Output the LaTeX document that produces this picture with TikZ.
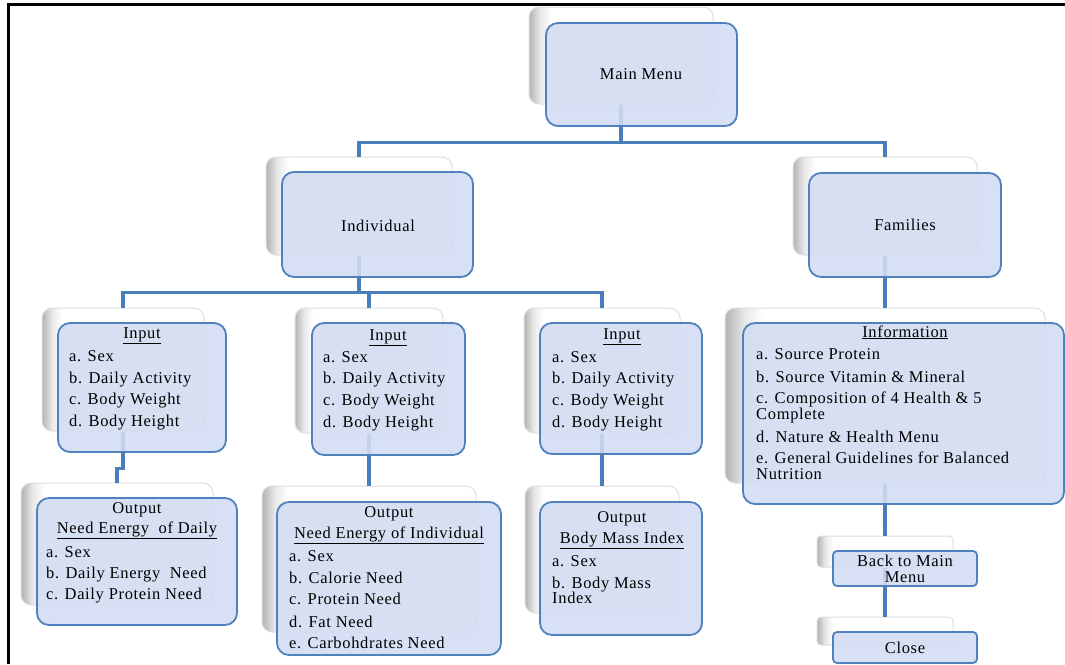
\documentclass[tikz,border=0pt]{standalone}
\usepackage{fontspec}
\setmainfont{Liberation Serif}[LetterSpace=4]
\usetikzlibrary{fit}
\definecolor{fb}{RGB}{210,220,242}
\definecolor{fbd}{RGB}{79,129,189}
\definecolor{cn}{RGB}{74,126,187}
\definecolor{bbd}{RGB}{222,222,222}
\pgfdeclarehorizontalshading{backsh}{100bp}{color(0bp)=(black!30); color(25bp)=(black!30); color(28bp)=(black!9); color(31bp)=(white); color(100bp)=(white)}
\tikzset{
  frontbox/.style={draw=fbd, line width=1.8pt, fill=fb, fill opacity=0.88, rounded corners=12pt, inner sep=0pt},
  smallfront/.style={frontbox, rounded corners=4pt},
  backbox/.style={draw=bbd, line width=1pt, shade, shading=backsh, rounded corners=10pt, inner sep=0pt},
  smallback/.style={backbox, rounded corners=4pt},
  conn/.style={draw=cn, line width=3.6pt},
  hd/.style={anchor=base, inner sep=0pt, font=\fontsize{16.5pt}{19pt}\selectfont},
  ln/.style={anchor=base west, inner sep=0pt, font=\fontsize{16.5pt}{19pt}\selectfont},
}
\begin{document}
\begin{tikzpicture}[x=1pt,y=-1pt]
\useasboundingbox (0,0) rectangle (1065,664);
\draw[line width=2.2pt] (8.5,664) -- (8.5,4.5) -- (1065,4.5);

% back boxes
\node[backbox, fit={(529,7) (713,104)}] (mainB) {};
\node[backbox, fit={(266,157) (452,255)}] (indB) {};
\node[backbox, fit={(793,157) (977,255)}] (famB) {};
\node[backbox, fit={(42,308) (204,431)}] (in1B) {};
\node[backbox, fit={(295,308) (443,433)}] (in2B) {};
\node[backbox, fit={(524,308) (680,433)}] (in3B) {};
\node[backbox, fit={(21,483) (213,605)}] (out1B) {};
\node[backbox, fit={(262,486) (476,632)}] (out2B) {};
\node[backbox, fit={(525,486) (679,613)}] (out3B) {};
\node[backbox, fit={(725,308) (1045,483)}] (infoB) {};
\node[smallback, fit={(817,536) (953,567)}] (backB) {};
\node[smallback, fit={(817,617) (953,645)}] (closeB) {};

% connectors
\draw[conn] (mainB.south) -- ++(0,38) -| (indB.north);
\draw[conn] (mainB.south) -- ++(0,38) -| (famB.north);
\draw[conn] (indB.south) -- ++(0,37) -| (in1B.north);
\draw[conn] (indB.south) -- ++(0,37) -| (in2B.north);
\draw[conn] (indB.south) -- ++(0,37) -| (in3B.north);
\draw[conn] (in1B.south) -- ++(0,37) -| (out1B.north);
\draw[conn] (in2B.south) -- (out2B.north);
\draw[conn] (in3B.south) -- (out3B.north);
\draw[conn] (famB.south) -- (infoB.north);
\draw[conn] (infoB.south) -- (backB.north);
\draw[conn] (backB.south) -- (closeB.north);

% front boxes
\node[frontbox, fit={(546,23) (737,126)}] (main) {};
\node[frontbox, fit={(282,172) (473,277)}] (ind) {};
\node[frontbox, fit={(809,173) (1001,277)}] (fam) {};
\node[frontbox, fit={(58,323) (226,452)}] (in1) {};
\node[frontbox, fit={(312,323) (465,455)}] (in2) {};
\node[frontbox, fit={(540,323) (702,454)}] (in3) {};
\node[frontbox, fit={(37,498) (237,625)}] (out1) {};
\node[frontbox, fit={(277,502) (501,655)}] (out2) {};
\node[frontbox, fit={(540,502) (702,635)}] (out3) {};
\node[frontbox, fit={(743,323) (1064,504)}] (info) {};
\node[smallfront, fit={(833,551) (977,586)}] (back) {};
\node[smallfront, fit={(833,632) (977,663)}] (close) {};

% texts
\node[hd] (tmain) at (641,79) {Main Menu};
\node[hd] (tind) at (378,231) {Individual};
\node[hd] (tfam) at (905,230) {Families};

\node[hd] (i1h) at (142,338) {\underline{Input}};
\node[ln] (i1a) at (69,361) {a. Sex};
\node[ln] (i1b) at (69,383) {b. Daily Activity};
\node[ln] (i1c) at (69,404) {c. Body Weight};
\node[ln] (i1d) at (69,426) {d. Body Height};

\node[hd] (i2h) at (388,340) {\underline{Input}};
\node[ln] (i2a) at (323,362) {a. Sex};
\node[ln] (i2b) at (323,383) {b. Daily Activity};
\node[ln] (i2c) at (323,405) {c. Body Weight};
\node[ln] (i2d) at (323,427) {d. Body Height};

\node[hd] (i3h) at (622,339) {\underline{Input}};
\node[ln] (i3a) at (552,362) {a. Sex};
\node[ln] (i3b) at (552,383) {b. Daily Activity};
\node[ln] (i3c) at (552,405) {c. Body Weight};
\node[ln] (i3d) at (552,427) {d. Body Height};

\node[hd] (o1h) at (137,513) {Output};
\node[hd] (o1u) at (137,533) {\underline{Need Energy\ \ of Daily}};
\node[ln] (o1a) at (46,557) {a. Sex};
\node[ln] (o1b) at (46,578) {b. Daily Energy\ \ Need};
\node[ln] (o1c) at (46,599) {c. Daily Protein Need};

\node[hd] (o2h) at (389,517) {Output};
\node[hd] (o2u) at (389,538) {\underline{Need Energy of Individual}};
\node[ln] (o2a) at (289,561) {a. Sex};
\node[ln] (o2b) at (289,583) {b. Calorie Need};
\node[ln] (o2c) at (289,604) {c. Protein Need};
\node[ln] (o2d) at (289,627) {d. Fat Need};
\node[ln] (o2e) at (289,648) {e. Carbohdrates Need};

\node[hd] (o3h) at (622,522) {Output};
\node[hd] (o3u) at (622,543) {\underline{Body Mass Index}};
\node[ln] (o3a) at (552,566) {a. Sex};
\node[ln] (o3b) at (552,588) {b. Body Mass};
\node[ln] (o3c) at (552,603) {Index};

\node[hd] (infh) at (905,337) {\underline{Information}};
\node[ln] (infa) at (756,359) {a. Source Protein};
\node[ln] (infb) at (756,382) {b. Source Vitamin \& Mineral};
\node[ln] (infc) at (756,403) {c. Composition of 4 Health \& 5};
\node[ln] (infc2) at (756,419) {Complete};
\node[ln] (infd) at (756,442) {d. Nature \& Health Menu};
\node[ln] (infe) at (756,463) {e. General Guidelines for Balanced};
\node[ln] (infe2) at (756,479) {Nutrition};

\node[hd] (tback1) at (905,566) {Back to Main};
\node[hd] (tback2) at (905,582) {Menu};
\node[hd] (tclose) at (905,653) {Close};
\end{tikzpicture}
\end{document}
